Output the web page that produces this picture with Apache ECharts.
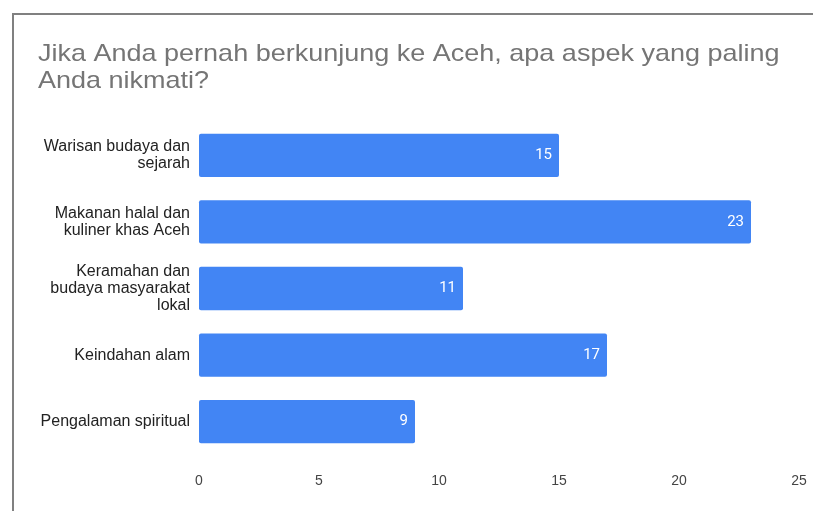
<!DOCTYPE html>
<html>
<head>
<meta charset="utf-8">
<script src="https://cdn.jsdelivr.net/npm/echarts@6/dist/echarts.min.js"></script>
<style>
  html, body { margin: 0; padding: 0; background: #fff; }
  #chart { width: 813px; height: 511px; }
</style>
</head>
<body>
<div id="chart"></div>
<script>
// Survey answers: which aspect of Aceh respondents enjoyed
const titleText = 'Jika Anda pernah berkunjung ke Aceh, apa aspek yang paling\nAnda nikmati?';
const categories = [
  'Warisan budaya dan\nsejarah',
  'Makanan halal dan\nkuliner khas Aceh',
  'Keramahan dan\nbudaya masyarakat\nlokal',
  'Keindahan alam',
  'Pengalaman spiritual'
];
const counts = [15, 23, 11, 17, 9];
const xTicks = { min: 0, max: 25, interval: 5 };

const textFont = 'Arial, "Liberation Sans", sans-serif';

const chart = echarts.init(document.getElementById('chart'));
chart.setOption({
  backgroundColor: '#fff',
  animation: false,
  graphic: [{
    type: 'rect',
    shape: { x: 13, y: 14, width: 900, height: 600 },
    style: { fill: 'none', stroke: '#808080', lineWidth: 2 },
    silent: true
  }, {
    // heading, drawn slightly widened
    type: 'text',
    x: 38,
    y: 41,
    scaleX: 1.125,
    style: {
      text: titleText,
      font: '24px ' + textFont,
      fill: '#757575',
      lineHeight: 27,
      textVerticalAlign: 'top'
    },
    silent: true
  }],
  grid: { left: 199, right: 14, top: 122, height: 333 },
  xAxis: {
    type: 'value',
    min: xTicks.min,
    max: xTicks.max,
    interval: xTicks.interval,
    axisLine: { show: false },
    axisTick: { show: false },
    splitLine: { show: false },
    axisLabel: {
      margin: 19,
      color: '#444',
      fontSize: 14,
      fontFamily: textFont
    }
  },
  yAxis: {
    type: 'category',
    inverse: true,
    data: categories,
    axisLine: { show: false },
    axisTick: { show: false },
    axisLabel: {
      margin: 9,
      color: '#222',
      fontSize: 16,
      lineHeight: 17,
      align: 'right',
      fontFamily: textFont
    }
  },
  series: [{
    type: 'bar',
    data: counts,
    barWidth: '65%',
    itemStyle: { color: '#4285F4', borderRadius: 2 },
    label: {
      show: true,
      position: 'insideRight',
      distance: 7,
      color: '#fff',
      fontSize: 15,
      fontFamily: 'Roboto, Arial, sans-serif'
    }
  }]
});
</script>
</body>
</html>
